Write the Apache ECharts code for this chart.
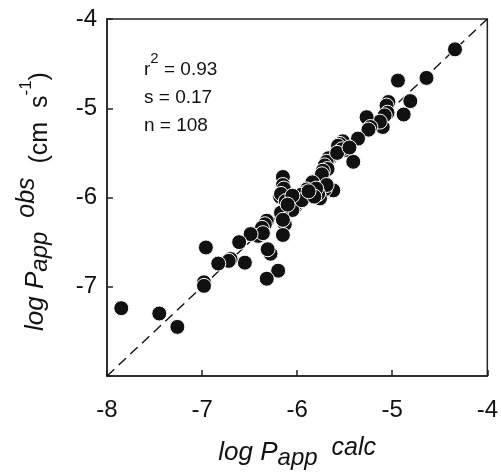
<!DOCTYPE html>
<html>
<head>
<meta charset="utf-8">
<script src="https://cdn.jsdelivr.net/npm/echarts@6/dist/echarts.min.js"></script>
<style>html,body{margin:0;padding:0;background:#fff}#c{width:501px;height:475px}</style>
</head>
<body>
<div id="c"></div>
<script>
// log Papp calc (x) and log Papp obs (y)
var calcVals = [-4.34,-4.64,-4.94,-4.81,-5.04,-5.06,-4.88,-5.05,-5.08,-5.10,-5.13,-5.27,-5.23,-5.25,-5.36,-5.52,-5.55,-5.57,-5.50,-5.53,-5.41,-5.67,-5.69,-5.71,-5.68,-5.73,-5.76,-5.74,-5.62,-5.71,-5.69,-5.76,-5.78,-5.87,-5.84,-5.90,-5.93,-5.99,-5.96,-6.02,-6.00,-6.09,-6.07,-6.15,-6.15,-6.14,-6.18,-6.17,-6.12,-6.05,-6.17,-6.13,-6.15,-6.15,-6.32,-6.34,-6.37,-6.41,-6.36,-6.49,-6.61,-6.28,-6.31,-6.20,-6.32,-6.55,-6.70,-6.72,-6.83,-6.96,-6.98,-6.98,-7.85,-7.45,-7.26,-5.80,-5.95,-6.05,-5.82,-6.10,-5.88,-5.58,-5.45];
var obsVals  = [-4.34,-4.66,-4.69,-4.92,-4.93,-4.97,-5.07,-5.05,-5.08,-5.21,-5.15,-5.10,-5.21,-5.24,-5.34,-5.37,-5.40,-5.42,-5.47,-5.46,-5.60,-5.56,-5.60,-5.64,-5.68,-5.70,-5.78,-5.74,-5.92,-5.91,-5.86,-6.01,-5.96,-5.88,-5.83,-5.91,-5.95,-6.01,-5.97,-6.10,-6.06,-5.97,-6.02,-5.77,-5.86,-5.90,-5.99,-5.96,-6.04,-6.14,-6.17,-6.30,-6.25,-6.42,-6.26,-6.30,-6.34,-6.43,-6.40,-6.41,-6.50,-6.63,-6.58,-6.82,-6.91,-6.73,-6.69,-6.71,-6.74,-6.56,-6.95,-6.99,-7.24,-7.30,-7.45,-5.90,-6.03,-5.98,-5.99,-6.08,-5.93,-5.50,-5.44];
var xTicks = [-8,-7,-6,-5,-4];
var yTicks = [-7,-6,-5,-4];
var identityLine = [-8,-4];
var statLines = ['r', '2', ' = 0.93', 's = 0.17', 'n = 108'];

var pts = calcVals.map(function(v,i){return [v, obsVals[i]];});
var FONT = '"Liberation Sans", Arial, sans-serif';
var nameRich = {
  it:{fontSize:26,fontStyle:'italic',fontFamily:FONT,color:'#111',lineHeight:34,verticalAlign:'middle'},
  sub:{fontSize:24,fontStyle:'italic',fontFamily:FONT,color:'#111',verticalAlign:'bottom',lineHeight:28},
  sup:{fontSize:25,fontStyle:'italic',fontFamily:FONT,color:'#111',verticalAlign:'top',lineHeight:22}
};
var yNameRich = {
  it:{fontSize:26,fontStyle:'italic',fontFamily:FONT,color:'#111',lineHeight:34,verticalAlign:'middle'},
  sub:{fontSize:24,fontStyle:'italic',fontFamily:FONT,color:'#111',lineHeight:34,verticalAlign:'middle',padding:[8,0,0,0]},
  sup:{fontSize:25,fontStyle:'italic',fontFamily:FONT,color:'#111',lineHeight:34,verticalAlign:'middle',padding:[0,0,18,0]},
  up:{fontSize:25,fontFamily:FONT,color:'#111',lineHeight:34,verticalAlign:'middle',padding:[8,0,0,0]},
  sup2:{fontSize:17,fontFamily:FONT,color:'#111',lineHeight:34,verticalAlign:'middle',padding:[0,0,20,0]}
};
var chart = echarts.init(document.getElementById('c'), null, {renderer:'canvas'});
chart.setOption({
  animation:false,
  backgroundColor:'#fff',
  grid:{left:107,right:10,top:19,bottom:95,show:true,borderColor:'#222',borderWidth:1.5,backgroundColor:'transparent'},
  xAxis:{
    type:'value',min:xTicks[0],max:xTicks[xTicks.length-1],interval:1,
    axisLine:{lineStyle:{color:'#222',width:1.5}},
    axisTick:{inside:true,length:6,lineStyle:{color:'#222',width:1.5}},
    splitLine:{show:false},
    axisLabel:{color:'#111',fontSize:24,fontFamily:FONT,margin:22},
    name:'{it|log P}{sub|app}{sup|  calc}',
    nameLocation:'middle',nameGap:60,
    nameTextStyle:{rich:nameRich}
  },
  yAxis:{
    type:'value',min:-8,max:yTicks[yTicks.length-1],interval:1,
    axisLine:{lineStyle:{color:'#222',width:1.5}},
    axisTick:{inside:true,length:6,lineStyle:{color:'#222',width:1.5}},
    splitLine:{show:false},
    axisLabel:{color:'#111',fontSize:24,fontFamily:FONT,margin:10,
      formatter:function(v){return yTicks.indexOf(v)>=0 ? String(v) : '';}},
    name:'{it|log P}{sub|app}{sup|  obs}{up|  (cm  s}{sup2|-1}{up|)}',
    nameLocation:'middle',nameGap:54,
    nameTextStyle:{rich:yNameRich,padding:[0,8,0,0]}
  },
  graphic:[
    {type:'text',left:144,top:51,style:{rich:{b:{fontSize:19,fontFamily:FONT,fill:'#111',verticalAlign:'bottom',lineHeight:28},s:{fontSize:15,fontFamily:FONT,fill:'#111',verticalAlign:'top',lineHeight:15}},text:'{b|'+statLines[0]+'}{s|'+statLines[1]+'}{b|'+statLines[2]+'}'}},
    {type:'text',left:144,top:88,style:{text:statLines[3],fontSize:19,fontFamily:FONT,fill:'#111'}},
    {type:'text',left:144,top:116,style:{text:statLines[4],fontSize:19,fontFamily:FONT,fill:'#111'}}
  ],
  series:[
    {type:'line',data:[[identityLine[0],identityLine[0]],[identityLine[1],identityLine[1]]],symbol:'none',
     lineStyle:{color:'#111',width:1.4,type:[10,6]},z:1,silent:true},
    {type:'scatter',data:pts,symbol:'circle',symbolSize:15,
     itemStyle:{color:'#111',borderColor:'#fff',borderWidth:1,opacity:1},z:2}
  ]
});
</script>
</body>
</html>
